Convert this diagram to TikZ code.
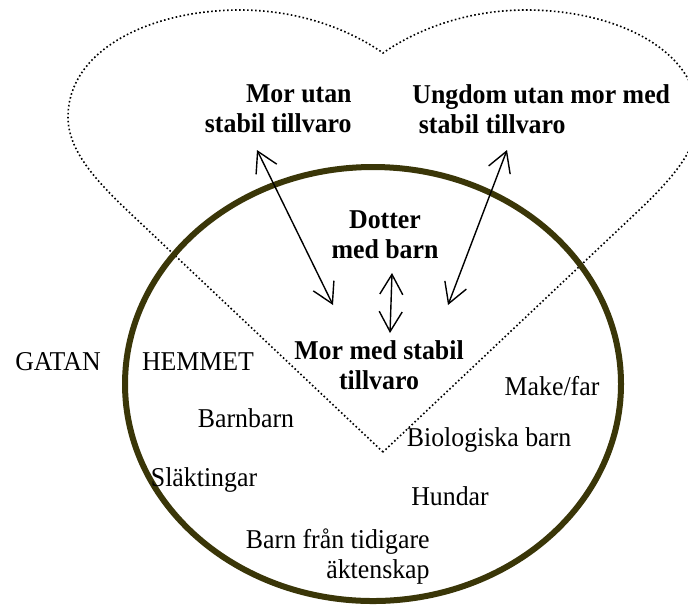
\documentclass[tikz,border=0pt]{standalone}
\usepackage{fontspec}
\setmainfont{Liberation Serif}[FakeStretch=0.95]
\usepackage{xcolor}
\usepackage{tikz}
\usetikzlibrary{positioning,arrows.meta}
\definecolor{homeolive}{RGB}{58,54,8}

\begin{document}
\begin{tikzpicture}[x=0.5pt, y=-0.5pt,
    lbl/.style={inner sep=0pt, font=\fontsize{13.6}{15}\selectfont},
    boldlbl/.style={inner sep=0pt, font=\fontsize{13.6}{15}\selectfont\bfseries},
    link/.style={line width=0.7pt, {Straight Barb[length=10pt,width=11.5pt]}-{Straight Barb[length=10pt,width=11.5pt]}}]
    \clip (0,0) rectangle (688,606);

    \draw[line width=0.8pt, dash pattern=on 0.8pt off 1.2pt] (383,452) -- (130,213)
        .. controls (95,180) and (68,150) .. (68,117)
        .. controls (68,50) and (150,10) .. (240,10)
        .. controls (300,10) and (350,30) .. (383,53)
        .. controls (416,30) and (466,10) .. (526,10)
        .. controls (616,10) and (698,50) .. (698,117)
        .. controls (698,150) and (671,180) .. (636,213) -- cycle;
    \draw[homeolive, line width=3pt] (373,384) ellipse [x radius=248, y radius=217];

    \node[boldlbl, align=right, anchor=east] (morutan) at (352,109) {Mor utan\\stabil tillvaro};
    \node[boldlbl, align=left, anchor=west] (ungdom) at (412,109) {Ungdom utan mor med\\\ stabil tillvaro};
    \node[boldlbl, align=center] (dotter) at (385,235) {Dotter\\med barn};
    \node[boldlbl, align=center] (mormed) at (379,365) {Mor med stabil\\tillvaro};

    \node[lbl] (gatan) at (58,362) {GATAN};
    \node[lbl] (hemmet) at (198,362) {HEMMET};
    \node[lbl] (makefar) at (552,386) {Make/far};
    \node[lbl] (barnbarn) at (246,418) {Barnbarn};
    \node[lbl] (biobarn) at (489,440) {Biologiska barn};
    \node[lbl] (slakt) at (204,480) {Släktingar};
    \node[lbl] (hundar) at (450,496) {Hundar};
    \node[lbl, align=right, anchor=east] (tidigare) at (430,557) {Barn från tidigare\\äktenskap};

    \coordinate (mutop) at (257,150);
    \coordinate (mubot) at (333,305);
    \coordinate (dtop) at (392,273);
    \coordinate (dbot) at (390,333);
    \coordinate (ugtop) at (507,150);
    \coordinate (ugbot) at (448,305);
    \draw[link] (mutop) -- (mubot);
    \draw[link] (dtop) -- (dbot);
    \draw[link] (ugtop) -- (ugbot);
\end{tikzpicture}
\end{document}
